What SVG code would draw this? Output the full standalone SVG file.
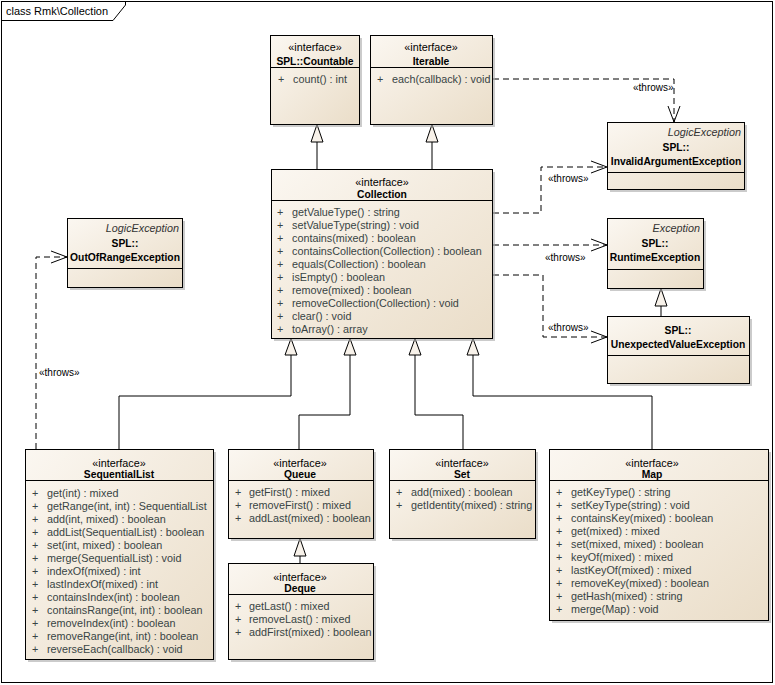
<svg xmlns="http://www.w3.org/2000/svg" width="775" height="685" viewBox="0 0 775 685">
<defs>
<linearGradient id="g" x1="0" y1="0" x2="1" y2="1">
<stop offset="0" stop-color="#FBF7F1"/>
<stop offset="1" stop-color="#EADDC8"/>
</linearGradient>
<marker id="open" markerWidth="20" markerHeight="14" refX="18" refY="7" orient="auto" markerUnits="userSpaceOnUse">
<path d="M2,1 L18,7 L2,13" fill="none" stroke="#000" stroke-width="1"/>
</marker>
</defs>
<style>
text{font-family:"Liberation Sans",Arial,sans-serif;font-size:10.8px;fill:#000}
.m{fill:#384444}
.b{font-weight:bold;font-size:10.3px}
.i{font-style:italic;fill:#333}
.c{text-anchor:middle}
.r{text-anchor:end}
.box{fill:url(#g);stroke:#000;stroke-width:1}
.sh{fill:#A8A8A8;opacity:0.6}
.sep{stroke:#000;stroke-width:1}
.ln{fill:none;stroke:#000;stroke-width:1}
.dash{fill:none;stroke:#000;stroke-width:1;stroke-dasharray:6,4}
.tri{fill:#F8F2EA;stroke:#000;stroke-width:1}
.lbl{font-size:10px}
</style>
<rect width="775" height="685" fill="#fff"/>
<!-- frame -->
<g id="frame">
<rect x="1.5" y="1.5" width="771" height="681" fill="none" stroke="#000"/>
<path d="M1.5,20.5 H113 L125.5,5 V1.5" fill="none" stroke="#000"/>
<text x="6" y="15" style="font-size:11px">class Rmk\Collection</text>
</g>

<!-- connectors -->
<g id="connectors">
<!-- generalizations -->
<path class="ln" d="M317,142 V169"/>
<path class="tri" d="M317,124.5 L311,142 L323,142 Z"/>
<path class="ln" d="M432,142 V169"/>
<path class="tri" d="M432,124.5 L426,142 L438,142 Z"/>
<path class="ln" d="M291,355 V396 H119 V449"/>
<path class="tri" d="M291,338.5 L285,355 L297,355 Z"/>
<path class="ln" d="M350,355 V415 H299 V449"/>
<path class="tri" d="M350,338.5 L344,355 L356,355 Z"/>
<path class="ln" d="M415,355 V415 H463 V449"/>
<path class="tri" d="M415,338.5 L409,355 L421,355 Z"/>
<path class="ln" d="M473,355 V396 H652 V449"/>
<path class="tri" d="M473,338.5 L467,355 L479,355 Z"/>
<path class="ln" d="M300,556 V563"/>
<path class="tri" d="M300,538.5 L294,556 L306,556 Z"/>
<path class="ln" d="M661,306 V316"/>
<path class="tri" d="M661,288.5 L655,306 L667,306 Z"/>
<!-- throws -->
<path class="dash" d="M493,79 H674 V122" marker-end="url(#open)"/>
<text class="lbl" x="633" y="91">«throws»</text>
<path class="dash" d="M493,213 H541 V167 H607" marker-end="url(#open)"/>
<text class="lbl" x="548" y="182">«throws»</text>
<path class="dash" d="M493,245 H607" marker-end="url(#open)"/>
<text class="lbl" x="545" y="261">«throws»</text>
<path class="dash" d="M493,275 H543 V337 H607" marker-end="url(#open)"/>
<text class="lbl" x="548" y="331">«throws»</text>
<path class="dash" d="M36,449 V257 H67" marker-end="url(#open)"/>
<text class="lbl" x="39" y="376">«throws»</text>
</g>

<!-- Countable -->
<g id="countable">
<rect class="sh" x="273" y="38" width="89" height="89"/>
<rect class="box" x="270.5" y="35.5" width="89" height="89"/>
<line class="sep" x1="270.5" y1="67.5" x2="359.5" y2="67.5"/>
<text class="c" x="315" y="51">«interface»</text>
<text class="c b" x="315" y="65">SPL::Countable</text>
<text class="m" x="278" y="83">+</text><text class="m" x="293" y="83">count() : int</text>
</g>

<!-- Iterable -->
<g id="iterable">
<rect class="sh" x="373" y="38" width="122" height="89"/>
<rect class="box" x="370.5" y="35.5" width="122" height="89"/>
<line class="sep" x1="370.5" y1="67.5" x2="492.5" y2="67.5"/>
<text class="c" x="431" y="51">«interface»</text>
<text class="c b" x="431" y="65">Iterable</text>
<text class="m" x="377" y="83">+</text><text class="m" x="392" y="83">each(callback) : void</text>
</g>

<!-- Collection -->
<g id="collection">
<rect class="sh" x="274" y="172" width="221" height="169"/>
<rect class="box" x="271.5" y="169.5" width="221" height="169"/>
<line class="sep" x1="271.5" y1="200.5" x2="492.5" y2="200.5"/>
<text class="c" x="382" y="186">«interface»</text>
<text class="c b" x="382" y="198">Collection</text>
<text class="m" x="277" y="216">+</text><text class="m" x="292" y="216">getValueType() : string</text>
<text class="m" x="277" y="229">+</text><text class="m" x="292" y="229">setValueType(string) : void</text>
<text class="m" x="277" y="242">+</text><text class="m" x="292" y="242">contains(mixed) : boolean</text>
<text class="m" x="277" y="255">+</text><text class="m" x="292" y="255">containsCollection(Collection) : boolean</text>
<text class="m" x="277" y="268">+</text><text class="m" x="292" y="268">equals(Collection) : boolean</text>
<text class="m" x="277" y="281">+</text><text class="m" x="292" y="281">isEmpty() : boolean</text>
<text class="m" x="277" y="294">+</text><text class="m" x="292" y="294">remove(mixed) : boolean</text>
<text class="m" x="277" y="307">+</text><text class="m" x="292" y="307">removeCollection(Collection) : void</text>
<text class="m" x="277" y="320">+</text><text class="m" x="292" y="320">clear() : void</text>
<text class="m" x="277" y="333">+</text><text class="m" x="292" y="333">toArray() : array</text>
</g>

<!-- InvalidArgumentException -->
<g id="invalidArgumentException">
<rect class="sh" x="610" y="125" width="137" height="67"/>
<rect class="box" x="607.5" y="122.5" width="137" height="67"/>
<line class="sep" x1="607.5" y1="172.5" x2="744.5" y2="172.5"/>
<text class="i r" x="741" y="136">LogicException</text>
<text class="c b" x="676" y="151">SPL::</text>
<text class="c b" x="676" y="165">InvalidArgumentException</text>
</g>

<!-- OutOfRangeException -->
<g id="outOfRangeException">
<rect class="sh" x="70" y="221" width="115" height="69"/>
<rect class="box" x="67.5" y="218.5" width="115" height="69"/>
<line class="sep" x1="67.5" y1="268.5" x2="182.5" y2="268.5"/>
<text class="i r" x="179" y="232">LogicException</text>
<text class="c b" x="125" y="247">SPL::</text>
<text class="c b" x="125" y="261">OutOfRangeException</text>
</g>

<!-- RuntimeException -->
<g id="runtimeException">
<rect class="sh" x="610" y="221" width="96" height="70"/>
<rect class="box" x="607.5" y="218.5" width="96" height="70"/>
<line class="sep" x1="607.5" y1="269.5" x2="703.5" y2="269.5"/>
<text class="i r" x="700" y="232">Exception</text>
<text class="c b" x="655" y="247">SPL::</text>
<text class="c b" x="655" y="261">RuntimeException</text>
</g>

<!-- UnexpectedValueException -->
<g id="unexpectedValueException">
<rect class="sh" x="610" y="319" width="142" height="67"/>
<rect class="box" x="607.5" y="316.5" width="142" height="67"/>
<line class="sep" x1="607.5" y1="355.5" x2="749.5" y2="355.5"/>
<text class="c b" x="678" y="334">SPL::</text>
<text class="c b" x="678" y="348">UnexpectedValueException</text>
</g>

<!-- SequentialList -->
<g id="sequentialList">
<rect class="sh" x="28" y="452" width="188" height="210"/>
<rect class="box" x="25.5" y="449.5" width="188" height="210"/>
<line class="sep" x1="25.5" y1="480.5" x2="213.5" y2="480.5"/>
<text class="c" x="119" y="467">«interface»</text>
<text class="c b" x="119" y="478">SequentialList</text>
<text class="m" x="32" y="497">+</text><text class="m" x="47" y="497">get(int) : mixed</text>
<text class="m" x="32" y="510">+</text><text class="m" x="47" y="510">getRange(int, int) : SequentialList</text>
<text class="m" x="32" y="523">+</text><text class="m" x="47" y="523">add(int, mixed) : boolean</text>
<text class="m" x="32" y="536">+</text><text class="m" x="47" y="536">addList(SequentialList) : boolean</text>
<text class="m" x="32" y="549">+</text><text class="m" x="47" y="549">set(int, mixed) : boolean</text>
<text class="m" x="32" y="562">+</text><text class="m" x="47" y="562">merge(SequentialList) : void</text>
<text class="m" x="32" y="575">+</text><text class="m" x="47" y="575">indexOf(mixed) : int</text>
<text class="m" x="32" y="588">+</text><text class="m" x="47" y="588">lastIndexOf(mixed) : int</text>
<text class="m" x="32" y="601">+</text><text class="m" x="47" y="601">containsIndex(int) : boolean</text>
<text class="m" x="32" y="614">+</text><text class="m" x="47" y="614">containsRange(int, int) : boolean</text>
<text class="m" x="32" y="627">+</text><text class="m" x="47" y="627">removeIndex(int) : boolean</text>
<text class="m" x="32" y="640">+</text><text class="m" x="47" y="640">removeRange(int, int) : boolean</text>
<text class="m" x="32" y="653">+</text><text class="m" x="47" y="653">reverseEach(callback) : void</text>
</g>

<!-- Queue -->
<g id="queue">
<rect class="sh" x="231" y="452" width="145" height="89"/>
<rect class="box" x="228.5" y="449.5" width="145" height="89"/>
<line class="sep" x1="228.5" y1="480.5" x2="373.5" y2="480.5"/>
<text class="c" x="300" y="467">«interface»</text>
<text class="c b" x="300" y="478">Queue</text>
<text class="m" x="235" y="496">+</text><text class="m" x="249" y="496">getFirst() : mixed</text>
<text class="m" x="235" y="509">+</text><text class="m" x="249" y="509">removeFirst() : mixed</text>
<text class="m" x="235" y="522">+</text><text class="m" x="249" y="522">addLast(mixed) : boolean</text>
</g>

<!-- Deque -->
<g id="deque">
<rect class="sh" x="231" y="566" width="145" height="96"/>
<rect class="box" x="228.5" y="563.5" width="145" height="96"/>
<line class="sep" x1="228.5" y1="594.5" x2="373.5" y2="594.5"/>
<text class="c" x="300" y="581">«interface»</text>
<text class="c b" x="300" y="592">Deque</text>
<text class="m" x="235" y="610">+</text><text class="m" x="249" y="610">getLast() : mixed</text>
<text class="m" x="235" y="623">+</text><text class="m" x="249" y="623">removeLast() : mixed</text>
<text class="m" x="235" y="636">+</text><text class="m" x="249" y="636">addFirst(mixed) : boolean</text>
</g>

<!-- Set -->
<g id="set">
<rect class="sh" x="392" y="452" width="146" height="89"/>
<rect class="box" x="389.5" y="449.5" width="146" height="89"/>
<line class="sep" x1="389.5" y1="480.5" x2="535.5" y2="480.5"/>
<text class="c" x="462" y="467">«interface»</text>
<text class="c b" x="462" y="478">Set</text>
<text class="m" x="396" y="496">+</text><text class="m" x="411" y="496">add(mixed) : boolean</text>
<text class="m" x="396" y="509">+</text><text class="m" x="411" y="509">getIdentity(mixed) : string</text>
</g>

<!-- Map -->
<g id="map">
<rect class="sh" x="552" y="452" width="219" height="171"/>
<rect class="box" x="549.5" y="449.5" width="219" height="171"/>
<line class="sep" x1="549.5" y1="480.5" x2="768.5" y2="480.5"/>
<text class="c" x="652" y="467">«interface»</text>
<text class="c b" x="652" y="478">Map</text>
<text class="m" x="556" y="496">+</text><text class="m" x="571" y="496">getKeyType() : string</text>
<text class="m" x="556" y="509">+</text><text class="m" x="571" y="509">setKeyType(string) : void</text>
<text class="m" x="556" y="522">+</text><text class="m" x="571" y="522">containsKey(mixed) : boolean</text>
<text class="m" x="556" y="535">+</text><text class="m" x="571" y="535">get(mixed) : mixed</text>
<text class="m" x="556" y="548">+</text><text class="m" x="571" y="548">set(mixed, mixed) : boolean</text>
<text class="m" x="556" y="561">+</text><text class="m" x="571" y="561">keyOf(mixed) : mixed</text>
<text class="m" x="556" y="574">+</text><text class="m" x="571" y="574">lastKeyOf(mixed) : mixed</text>
<text class="m" x="556" y="587">+</text><text class="m" x="571" y="587">removeKey(mixed) : boolean</text>
<text class="m" x="556" y="600">+</text><text class="m" x="571" y="600">getHash(mixed) : string</text>
<text class="m" x="556" y="613">+</text><text class="m" x="571" y="613">merge(Map) : void</text>
</g>
</svg>
